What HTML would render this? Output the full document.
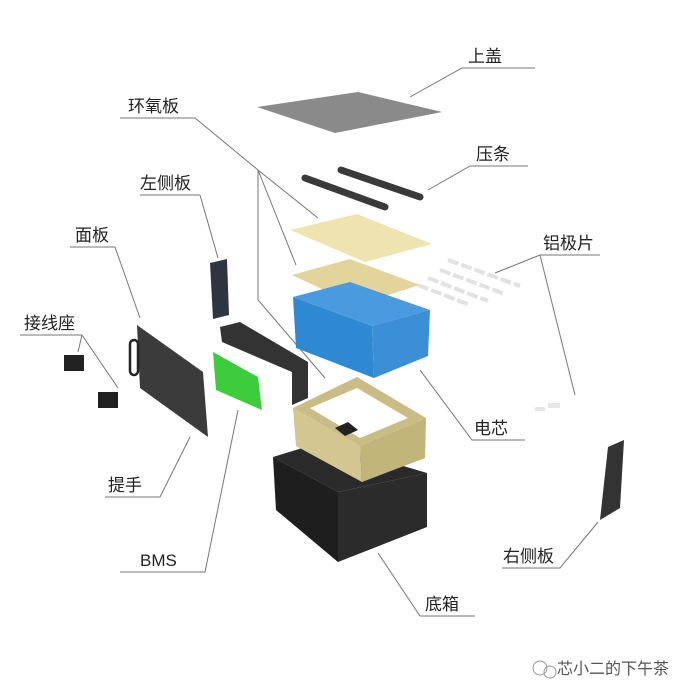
<!DOCTYPE html>
<html><head><meta charset="utf-8"><style>
html,body{margin:0;padding:0;background:#fff;width:700px;height:700px;overflow:hidden}
svg text{font-family:"Liberation Sans","Noto Sans CJK SC",sans-serif;font-size:17px;fill:#222}
</style></head><body>
<svg width="700" height="700" viewBox="0 0 700 700" xmlns="http://www.w3.org/2000/svg">
<g stroke="#777" stroke-width="1" fill="none">
<polyline points="410,97 462,68 535,68"/>
<polyline points="120,118 195,118 258,170 318,218"/>
<polyline points="258,170 296,265"/>
<polyline points="258,170 258,300 325,378"/>
<polyline points="428,190 470,166 528,166"/>
<polyline points="140,195 200,195 218,258"/>
<polyline points="70,247 115,247 140,318"/>
<polyline points="20,335 82,335 78,352"/>
<polyline points="82,335 118,388"/>
<polyline points="495,273 540,255 600,255"/>
<polyline points="540,255 575,395"/>
<polyline points="420,370 472,440 525,440"/>
<polyline points="105,497 160,497 190,437"/>
<polyline points="120,572 205,572 238,410"/>
<polyline points="502,568 560,568 598,522"/>
<polyline points="378,553 420,616 475,616"/>
</g>
<polygon points="257,107 358,92 442,112 335,133" fill="#8a8a8a"/>
<line x1="305" y1="178" x2="385" y2="207" stroke="#3a3a3a" stroke-width="7" stroke-linecap="round"/>
<line x1="341" y1="170" x2="420" y2="197" stroke="#3a3a3a" stroke-width="7" stroke-linecap="round"/>
<polygon points="290,230 357,214 432,244 365,262" fill="#efe3b0"/>
<polygon points="292,275 350,259 420,285 356,305" fill="#e2d49a"/>
<g stroke="#e2e2e2" stroke-width="4" stroke-dasharray="11,3">
<line x1="448" y1="260" x2="520" y2="286"/>
<line x1="440" y1="270" x2="505" y2="294"/>
<line x1="428" y1="278" x2="488" y2="301"/>
<line x1="418" y1="285" x2="470" y2="305"/>
</g>
<g fill="#e6e6e6"><rect x="535" y="407" width="10" height="4"/><rect x="548" y="403" width="12" height="5"/></g>
<polygon points="293,297 350,282 430,310 372,326" fill="#4a9ae0"/>
<polygon points="293,297 372,326 374,378 296,348" fill="#2e88d2"/>
<polygon points="372,326 430,310 428,356 374,378" fill="#3a8fd6"/>
<polygon points="220,327 240,322 308,362 308,398 292,405 292,372 222,342" fill="#333"/>
<!-- base box -->
<polygon points="273,457 322,442 427,473 338,492" fill="#2a2a2a"/>
<polygon points="273,457 338,492 338,562 276,510" fill="#1e1e1e"/>
<polygon points="338,492 427,473 427,527 338,562" fill="#2b2b2b"/>
<!-- sand box -->
<polygon points="293,408 357,377 426,418 360,446" fill="#c9bd85"/>
<polygon points="310,408 357,388 408,418 360,438" fill="#fff"/>
<polygon points="335,428 348,422 358,430 345,436" fill="#222"/>
<polygon points="293,408 360,446 362,482 296,446" fill="#d3c690"/>
<polygon points="360,446 426,418 425,458 362,482" fill="#c2b57a"/>
<polygon points="210,263 227,259 229,315 213,319" fill="#2d3540"/>
<polygon points="137,325 203,372 208,437 140,388" fill="#3b3b3b"/>
<rect x="130" y="340" width="8" height="35" rx="4" fill="none" stroke="#222" stroke-width="2.5"/>
<polygon points="213,352 258,377 262,410 216,390" fill="#3ccc3c"/>
<rect x="64" y="355" width="20" height="16" fill="#222"/>
<rect x="98" y="392" width="20" height="16" fill="#222"/>
<polygon points="608,447 624,440 620,508 600,520" fill="#333"/>
<g>
<text x="468" y="62">上盖</text>
<text x="128" y="112">环氧板</text>
<text x="476" y="160">压条</text>
<text x="140" y="189">左侧板</text>
<text x="75" y="241">面板</text>
<text x="24" y="329">接线座</text>
<text x="543" y="249">铝极片</text>
<text x="474" y="434">电芯</text>
<text x="108" y="491">提手</text>
<text x="140" y="566">BMS</text>
<text x="503" y="562">右侧板</text>
<text x="425" y="610">底箱</text>
<text x="557" y="674" style="font-size:16px;fill:#555">芯小二的下午茶</text>
</g>
<circle cx="540" cy="668" r="7" fill="none" stroke="#999"/>
<circle cx="550" cy="672" r="6" fill="none" stroke="#999"/>
</svg>
</body></html>
